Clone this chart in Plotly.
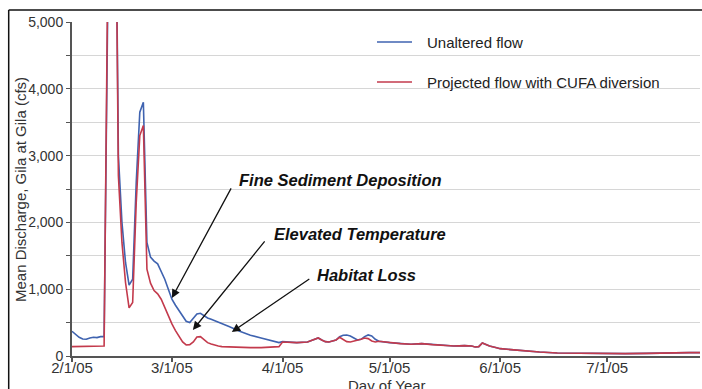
import plotly.graph_objects as go

dates = [
    "2005-02-01", "2005-02-02", "2005-02-03", "2005-02-04", "2005-02-05", "2005-02-06", "2005-02-07", "2005-02-08", "2005-02-09", "2005-02-10",
    "2005-02-11", "2005-02-12", "2005-02-13", "2005-02-14", "2005-02-15", "2005-02-16", "2005-02-17", "2005-02-18", "2005-02-19", "2005-02-20",
    "2005-02-21", "2005-02-22", "2005-02-23", "2005-02-24", "2005-02-25", "2005-02-26", "2005-02-27", "2005-02-28",
    "2005-03-01", "2005-03-02", "2005-03-03", "2005-03-04", "2005-03-05", "2005-03-06", "2005-03-07", "2005-03-08", "2005-03-09", "2005-03-10",
    "2005-03-11", "2005-03-12", "2005-03-13", "2005-03-14", "2005-03-15", "2005-03-17", "2005-03-20", "2005-03-23", "2005-03-26", "2005-03-29", "2005-03-31",
    "2005-04-01", "2005-04-03", "2005-04-05", "2005-04-08", "2005-04-10", "2005-04-11", "2005-04-12", "2005-04-13", "2005-04-14", "2005-04-16", "2005-04-17",
    "2005-04-18", "2005-04-19", "2005-04-20", "2005-04-21", "2005-04-22", "2005-04-23", "2005-04-24", "2005-04-25", "2005-04-26", "2005-04-27", "2005-04-28",
    "2005-05-01", "2005-05-04", "2005-05-07", "2005-05-10", "2005-05-13", "2005-05-16", "2005-05-19", "2005-05-22", "2005-05-24", "2005-05-25", "2005-05-26",
    "2005-05-27", "2005-05-28", "2005-05-29", "2005-05-31",
    "2005-06-01", "2005-06-04", "2005-06-08", "2005-06-12", "2005-06-17", "2005-06-22", "2005-06-28",
    "2005-07-06", "2005-07-12", "2005-07-18", "2005-07-21", "2005-07-24", "2005-07-27",
]

unaltered = [
    370, 320, 280, 255, 250, 270, 280, 275, 290, 290,
    5600, 10000, 8500, 3000, 2000, 1400, 1060, 1150, 2600, 3650,
    3800, 1700, 1480, 1420, 1380, 1270, 1150, 1000,
    850, 760, 680, 600, 520, 500, 560, 630, 640, 600,
    570, 550, 530, 510, 490, 440, 370, 310, 270, 225, 200,
    215, 205, 200, 210, 250, 270, 240, 215, 210, 240, 290,
    310, 315, 300, 270, 240, 250, 290, 315, 300, 250, 220,
    200, 185, 175, 185, 170, 160, 150, 155, 150, 135, 140,
    195, 170, 150, 125,
    110, 95, 75, 60, 45, 40, 35,
    35, 40, 50, 45, 50, 50,
]

projected = [
    140, 140, 140, 140, 140, 140, 145, 145, 150, 150,
    5600, 10000, 8500, 2700, 1700, 1100, 720, 800, 2300, 3300,
    3450, 1300, 1090, 980, 930, 850, 720, 600,
    480, 380, 290, 210, 165, 170, 210, 285, 290, 240,
    200, 180, 160, 150, 140, 135, 125, 125, 125, 130, 140,
    210, 205, 200, 210, 250, 270, 240, 215, 210, 240, 280,
    250, 215, 210, 220, 230, 250, 270, 260, 225, 210, 220,
    200, 185, 175, 185, 170, 160, 150, 155, 150, 135, 140,
    195, 170, 150, 125,
    110, 95, 75, 60, 45, 40, 35,
    35, 40, 50, 45, 50, 50,
]

series_names = ["Unaltered flow", "Projected flow with CUFA diversion"]
series_colors = ["#3f63b0", "#c33a4c"]

callouts = ["Fine Sediment Deposition", "Elevated Temperature", "Habitat Loss"]
callout_dates = ["2005-03-01", "2005-03-06 21:00", "2005-03-17 19:00"]
callout_values = [870, 390, 360]

FONT = "Liberation Sans, Arial, sans-serif"

fig = go.Figure()
fig.add_trace(go.Scatter(x=dates, y=unaltered, mode="lines", name=series_names[0],
                         line=dict(color=series_colors[0], width=1.6), showlegend=False))
fig.add_trace(go.Scatter(x=dates, y=projected, mode="lines", name=series_names[1],
                         line=dict(color=series_colors[1], width=1.6), showlegend=False))

W, H = 702, 389
L, R, T, B = 72, 700, 22, 356
pw, ph = R - L, B - T


def px(x):
    return (x - L) / pw


def py(y):
    return (B - y) / ph


shapes = []
# frame
shapes.append(dict(type="line", xref="paper", yref="paper", x0=px(8.7), x1=px(705), y0=py(10), y1=py(10),
                   line=dict(color="#111", width=1.5)))
shapes.append(dict(type="line", xref="paper", yref="paper", x0=px(8.7), x1=px(8.7), y0=py(10), y1=py(395),
                   line=dict(color="#111", width=1.5)))
# legend lines
for i, ly in enumerate([42, 82]):
    shapes.append(dict(type="line", xref="paper", yref="paper", x0=px(377), x1=px(412), y0=py(ly), y1=py(ly),
                       line=dict(color=series_colors[i], width=1.6)))

annotations = []
for i, ly in enumerate([42, 82]):
    annotations.append(dict(xref="paper", yref="paper", x=px(425), y=py(ly), text=series_names[i],
                            showarrow=False, xanchor="left", yanchor="middle",
                            font=dict(family=FONT, size=15, color="#222")))

# arrows
tails = [(60, -111), (73, -90), (79, -54)]
for i in range(3):
    annotations.append(dict(x=callout_dates[i], y=callout_values[i], xref="x", yref="y", text="",
                            showarrow=True, ax=tails[i][0], ay=tails[i][1],
                            arrowhead=2, arrowsize=1.3, arrowwidth=1.3, arrowcolor="#111"))
text_pos = [(237, 180), (272, 234), (315, 275)]
for i in range(3):
    annotations.append(dict(xref="paper", yref="paper", x=px(text_pos[i][0]), y=py(text_pos[i][1]),
                            text="<b><i>" + callouts[i] + "</i></b>", showarrow=False,
                            xanchor="left", yanchor="middle",
                            font=dict(family=FONT, size=16.5, color="#111")))

annotations.append(dict(xref="paper", yref="paper", x=px(20), y=py(190), text="Mean Discharge, Gila at Gila (cfs)",
                        textangle=-90, showarrow=False, xanchor="center", yanchor="middle",
                        font=dict(family=FONT, size=15, color="#333")))
annotations.append(dict(xref="paper", yref="paper", x=px(387), y=py(385), text="Day of Year",
                        showarrow=False, xanchor="center", yanchor="middle",
                        font=dict(family=FONT, size=15, color="#333")))

fig.update_layout(
    width=W, height=H,
    margin=dict(l=L, r=W - R, t=T, b=H - B),
    paper_bgcolor="white", plot_bgcolor="white",
    shapes=shapes, annotations=annotations,
    font=dict(family=FONT, size=14, color="#333"),
)
fig.update_xaxes(
    type="date", range=["2005-02-01", "2005-07-27"],
    dtick="M1", tick0="2005-02-01", tickformat="%-m/%-d/%y",
    showgrid=False, showline=True, linecolor="#555", linewidth=2,
    ticks="outside", ticklen=4, tickcolor="#555", tickwidth=1.5,
    tickfont=dict(family=FONT, size=15, color="#333"),
    ticklabelstandoff=-7,
    zeroline=False,
)
fig.update_yaxes(
    range=[0, 5000], dtick=1000, tickformat=",d",
    showgrid=True, gridcolor="#d6d6d6", gridwidth=1,
    showline=True, linecolor="#555", linewidth=2,
    ticks="outside", ticklen=4, tickcolor="#555",
    tickfont=dict(family=FONT, size=14, color="#333"),
    minor=dict(dtick=500, showgrid=True, gridcolor="#d6d6d6", ticks="outside", ticklen=4, tickcolor="#555"),
    zeroline=False,
)

fig.write_html(
    "out.html",
    config={"displayModeBar": False},
    post_script="document.body.style.margin='0';document.documentElement.style.overflow='hidden';document.body.style.overflow='hidden';",
)
